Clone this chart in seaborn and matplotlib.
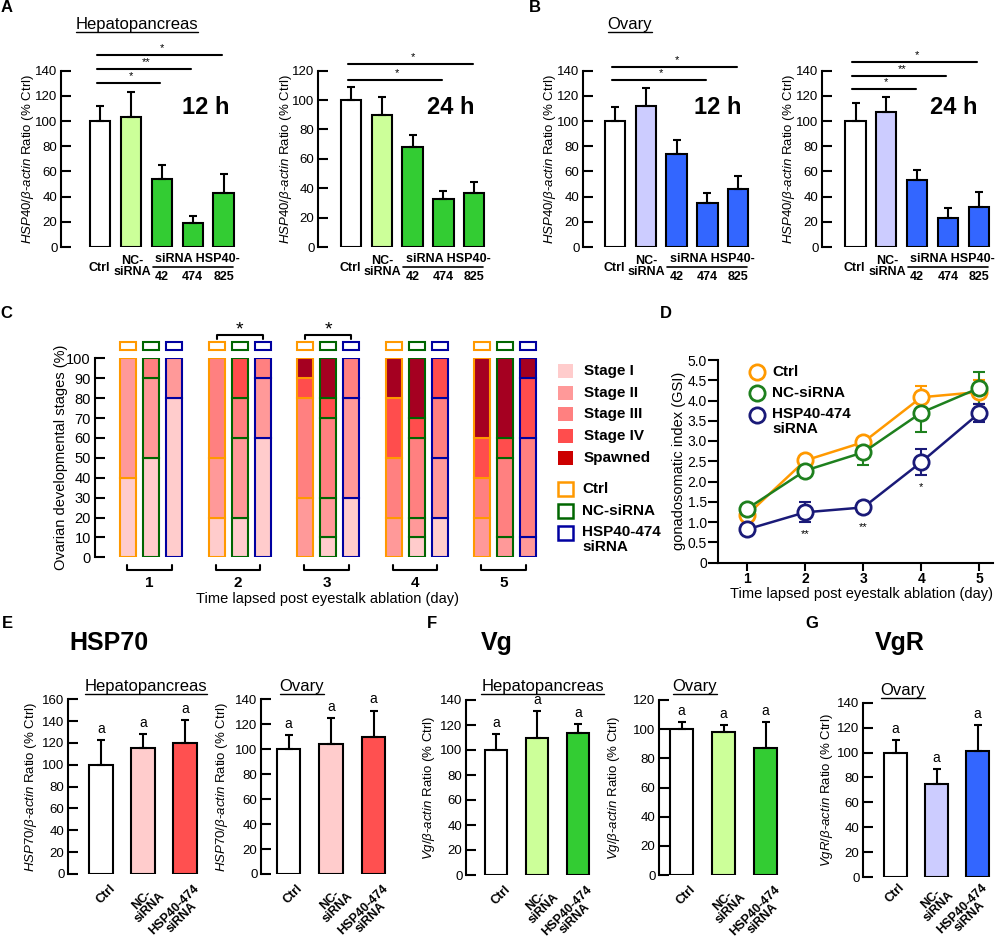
import numpy as np
import pandas as pd
import matplotlib
matplotlib.use("Agg")
import matplotlib.pyplot as plt
from matplotlib.patches import Rectangle
from matplotlib.lines import Line2D
from matplotlib.transforms import blended_transform_factory, ScaledTranslation
from matplotlib.ticker import FuncFormatter
import seaborn as sns

# ---------------- data ----------------
kd5 = ["Ctrl", "NC-siRNA", "HSP40-42", "HSP40-474", "HSP40-825"]
kd5_ticks = ["Ctrl", "NC-\nsiRNA", "42", "474", "825"]

hp12_mean = [100, 103, 54, 19, 43]
hp12_sem = [12, 20, 11, 6, 15]
hp12_sig = ["", "", "*", "**", "*"]
hp24_mean = [100, 90, 68, 33, 37]
hp24_sem = [9, 12, 8, 5, 7]
hp24_sig = ["", "", "", "*", "*"]
ov12_mean = [100, 112, 74, 35, 46]
ov12_sem = [11, 14, 11, 8, 10]
ov12_sig = ["", "", "", "*", "*"]
ov24_mean = [100, 107, 53, 23, 32]
ov24_sem = [14, 12, 8, 8, 12]
ov24_sig = ["", "", "*", "**", "*"]

days = [1, 2, 3, 4, 5]
stages = ["Stage I", "Stage II", "Stage III", "Stage IV", "Spawned"]
treat = ["Ctrl", "NC-siRNA", "HSP40-474\nsiRNA"]
# rows = stages (I..Spawned), columns = days 1..5, % of animals
stage_ctrl = [[40, 20, 0, 0, 0],
              [60, 30, 30, 20, 20],
              [0, 50, 50, 30, 20],
              [0, 0, 10, 30, 20],
              [0, 0, 10, 20, 40]]
stage_nc = [[50, 20, 10, 10, 0],
            [40, 40, 20, 10, 10],
            [10, 20, 40, 40, 40],
            [0, 20, 10, 10, 10],
            [0, 0, 20, 30, 40]]
stage_kd = [[80, 60, 30, 20, 0],
            [20, 30, 50, 30, 10],
            [0, 10, 20, 30, 50],
            [0, 0, 0, 20, 30],
            [0, 0, 0, 0, 10]]
stage_sig_days = [2, 3]

gsi_ctrl = [1.18, 2.52, 2.97, 4.08, 4.21]
gsi_ctrl_sem = [0.06, 0.06, 0.08, 0.27, 0.30]
gsi_nc = [1.33, 2.27, 2.72, 3.70, 4.31]
gsi_nc_sem = [0.08, 0.08, 0.31, 0.47, 0.39]
gsi_kd = [0.82, 1.24, 1.36, 2.48, 3.69]
gsi_kd_sem = [0.05, 0.25, 0.08, 0.33, 0.23]
gsi_sig = ["", "**", "**", "*", ""]

kd3 = ["Ctrl", "NC-siRNA", "HSP40-474 siRNA"]
kd3_ticks = ["Ctrl", "NC-\nsiRNA", "HSP40-474\nsiRNA"]
hsp70_hp = [100, 115, 120]
hsp70_hp_sem = [23, 13, 21]
hsp70_ov = [100, 104, 110]
hsp70_ov_sem = [11, 21, 21]
vg_hp = [100, 110, 114]
vg_hp_sem = [13, 21, 7]
vg_ov = [100, 98, 87]
vg_ov_sem = [5, 5, 18]
vgr_ov = [100, 75, 101]
vgr_ov_sem = [10, 12, 21]

# ---------------- style ----------------
sns.set_theme(style="ticks", rc={"axes.edgecolor": "black", "ytick.color": "black",
                                 "xtick.color": "black", "text.color": "black",
                                 "axes.labelcolor": "black"})
plt.rcParams["font.family"] = ["Liberation Sans", "DejaVu Sans"]
plt.rcParams["mathtext.fontset"] = "custom"
plt.rcParams["mathtext.it"] = "Liberation Sans:italic"
plt.rcParams["mathtext.rm"] = "Liberation Sans"

green_pal = ["#FFFFFF", "#CCFF99", "#33CC33", "#33CC33", "#33CC33"]
blue_pal = ["#FFFFFF", "#CCCCFF", "#3366FF", "#3366FF", "#3366FF"]
stage_cols = ["#FFCCCC", "#FF9999", "#FF8080", "#FF4D4D", "#A50021"]
stage_leg_cols = ["#FFCCCC", "#FF9999", "#FF8080", "#FF4D4D", "#CC0000"]
treat_cols = ["#FF9900", "#006600", "#0000A0"]
line_cols = ["#FF9900", "#1E801E", "#1A1A78"]

W, H = 1000, 944
fig = plt.figure(figsize=(W / 100, H / 100), dpi=100)


def fy(ypx):
    return 1 - ypx / H


def ftext(x, y, s, **kw):
    return fig.text(x / W, fy(y), s, **kw)


def add_ax(x0, x1, ytop, ybot):
    return fig.add_axes([x0 / W, 1 - ybot / H, (x1 - x0) / W, (ybot - ytop) / H])


def ratio_label(gene):
    return r"$\mathit{" + gene + r"/\beta}$-$\mathit{actin}$ Ratio (% Ctrl)"


def bar_panel(x_spine, first_px, step_px, ytop, ybot, ymax, cats, means, sems, colors, width):
    n = len(cats)
    left = -(first_px - x_spine) / step_px
    right = n - 0.45
    ax = add_ax(x_spine, x_spine + (right - left) * step_px, ytop, ybot)
    df = pd.DataFrame({"grp": cats, "val": means})
    sns.barplot(data=df, x="grp", y="val", hue="grp", palette=dict(zip(cats, colors)),
                saturation=1, width=width, edgecolor="black", linewidth=1.5,
                errorbar=None, legend=False, ax=ax)
    ax.errorbar(np.arange(n), means, yerr=[np.zeros(n), sems], fmt="none", ecolor="black",
                elinewidth=1.5, capsize=3, capthick=1.5, zorder=3)
    ax.set_xlim(left, right)
    ax.set_ylim(0, ymax)
    ax.set_yticks(np.arange(0, ymax + 1, 20))
    sns.despine(ax=ax, bottom=True)
    ax.spines["left"].set_linewidth(1.5)
    ax.tick_params(axis="y", direction="in", length=7, width=1.5, pad=2.5, labelsize=9.5)
    ax.tick_params(axis="x", length=0)
    ax.set_xlabel("")
    ax.set_ylabel("")
    return ax


def kd5_xlabels(ax):
    tr = blended_transform_factory(ax.transData, fig.transFigure)
    ax.set_xticks([])
    ax.text(-0.03, fy(268), kd5_ticks[0], transform=tr, ha="center", va="center",
            fontsize=9, fontweight="bold")
    ax.text(1.03, fy(266.5), kd5_ticks[1], transform=tr, ha="center", va="center",
            fontsize=9, fontweight="bold", linespacing=0.95)
    ax.text(3.15, fy(259), "siRNA HSP40-", transform=tr, ha="center", va="center",
            fontsize=9, fontweight="bold")
    ax.plot([1.7, 4.3], [fy(267), fy(267)], transform=tr, color="black", lw=1.2, clip_on=False)
    for i in range(2, 5):
        ax.text(i, fy(277.5), kd5_ticks[i], transform=tr, ha="center", va="center",
                fontsize=9, fontweight="bold")


def sig_lines(ax, sig, base_px, step_px=14):
    tr = blended_transform_factory(ax.transData, fig.transFigure)
    k = 0
    for i, s in enumerate(sig):
        if not s:
            continue
        y = fy(base_px - k * step_px)
        ax.plot([-0.1, i - 0.05], [y, y], transform=tr, color="black", lw=1.5, clip_on=False)
        ax.text(i / 2, y + 1.5 / H, s, transform=tr, ha="center", va="bottom", fontsize=8)
        k += 1


headers = []

# ---------------- A / B ----------------
top_ab, bot_ab = 70.7, 247
axA1 = bar_panel(61, 100.3, 30.8, top_ab, bot_ab, 140, kd5, hp12_mean, hp12_sem, green_pal, 0.66)
kd5_xlabels(axA1)
sig_lines(axA1, hp12_sig, 83)
ftext(206, 107, "12 h", ha="center", va="center", fontsize=17, fontweight="bold")
ftext(28, 159, ratio_label("HSP40"), rotation=90, ha="center", va="center", fontsize=9.5)

axA2 = bar_panel(318, 351, 30.8, top_ab, bot_ab, 120, kd5, hp24_mean, hp24_sem, green_pal, 0.66)
kd5_xlabels(axA2)
sig_lines(axA2, hp24_sig, 80, 16)
ftext(451, 107, "24 h", ha="center", va="center", fontsize=17, fontweight="bold")
ftext(285.5, 159, ratio_label("HSP40"), rotation=90, ha="center", va="center", fontsize=9.5)

axB1 = bar_panel(583, 615, 30.8, top_ab, bot_ab, 140, kd5, ov12_mean, ov12_sem, blue_pal, 0.66)
kd5_xlabels(axB1)
sig_lines(axB1, ov12_sig, 80, 13.5)
ftext(718, 107, "12 h", ha="center", va="center", fontsize=17, fontweight="bold")
ftext(550.5, 159, ratio_label("HSP40"), rotation=90, ha="center", va="center", fontsize=9.5)

axB2 = bar_panel(822, 855.5, 30.8, top_ab, bot_ab, 140, kd5, ov24_mean, ov24_sem, blue_pal, 0.66)
kd5_xlabels(axB2)
sig_lines(axB2, ov24_sig, 89, 13.5)
ftext(954, 107, "24 h", ha="center", va="center", fontsize=17, fontweight="bold")
ftext(789, 159, ratio_label("HSP40"), rotation=90, ha="center", va="center", fontsize=9.5)

headers.append(ftext(137, 24, "Hepatopancreas", ha="center", va="center", fontsize=12))
headers.append(ftext(630, 24, "Ovary", ha="center", va="center", fontsize=12))

# ---------------- C ----------------
c_top, c_bot = 358.3, 557.3
step_c = 88.5
c_left = 1 - (151.3 - 95) / step_c
c_right = 5 + (543 - 506) / step_c
axC = add_ax(95, 95 + (c_right - c_left) * step_c, c_top, c_bot)
offs = [-0.26, 0.0, 0.26]
for j, stack in enumerate([stage_ctrl, stage_nc, stage_kd]):
    xs = np.array(days) + offs[j]
    bottom = np.zeros(len(days))
    for row, col in zip(stack, stage_cols):
        vals = np.array(row, dtype=float)
        m = vals > 0
        axC.bar(xs[m], vals[m], bottom=bottom[m], width=0.18, color=col,
                edgecolor=treat_cols[j], linewidth=1.5)
        bottom += vals
    axC.bar(xs, 4.1, bottom=104.2, width=0.18, color="white", edgecolor=treat_cols[j],
            linewidth=1.5, clip_on=False)
for d in days:
    axC.plot([d - 0.27, d - 0.27, d + 0.23, d + 0.23], [-3.9, -6.4, -6.4, -3.9],
             color="black", lw=1.5, clip_on=False)
    axC.text(d - 0.02, -13, str(d), ha="center", va="center", fontsize=11, fontweight="bold")
for d in stage_sig_days:
    axC.plot([d - 0.26, d - 0.26, d + 0.26, d + 0.26], [109.5, 111.7, 111.7, 109.5],
             color="black", lw=1.5, clip_on=False)
    axC.text(d, 114, "*", ha="center", va="center", fontsize=14)
axC.set_xlim(c_left, c_right)
axC.set_ylim(0, 100)
axC.set_yticks(np.arange(0, 101, 10))
axC.set_xticks([])
sns.despine(ax=axC, bottom=True)
axC.spines["left"].set_linewidth(1.5)
axC.tick_params(axis="y", direction="in", length=7, width=1.5, pad=3, labelsize=10.5)
ftext(61, 457, "Ovarian developmental stages (%)", rotation=90, ha="center", va="center",
      fontsize=10.5)
ftext(327, 599.5, "Time lapsed post eyestalk ablation (day)", ha="center", va="center",
      fontsize=10.5)

leg_y = [371, 392.7, 414.3, 436, 457.7]
for lab, col, y in zip(stages, stage_leg_cols, leg_y):
    fig.add_artist(Rectangle((558 / W, fy(y + 7)), 15 / W, 14 / H, transform=fig.transFigure,
                             facecolor=col, edgecolor="none"))
    ftext(584, y, lab, ha="left", va="center", fontsize=11, fontweight="bold")
for lab, col, y in zip(treat, treat_cols, [489.3, 511, 533]):
    fig.add_artist(Rectangle((558 / W, fy(y + 7)), 15 / W, 14 / H, transform=fig.transFigure,
                             facecolor="white", edgecolor=col, linewidth=1.8))
    va = "top" if "\n" in lab else "center"
    yy = y - 7.5 if "\n" in lab else y
    ftext(582, yy, lab, ha="left", va=va, fontsize=11, fontweight="bold", linespacing=1.05)

# ---------------- D ----------------
d_top, d_bot = 360, 562.5
d_left = 1 - 29.3 / 58
d_right = 5 + 13.7 / 58
axD = add_ax(718, 718 + (d_right - d_left) * 58, d_top, d_bot)
for name, vals, sem, col in zip(treat, [gsi_ctrl, gsi_nc, gsi_kd],
                                [gsi_ctrl_sem, gsi_nc_sem, gsi_kd_sem], line_cols):
    axD.errorbar(days, vals, yerr=sem, fmt="none", ecolor=col, elinewidth=1.5,
                 capsize=4, capthick=1.5, zorder=2)
    df = pd.DataFrame({"day": days, "gsi": vals})
    sns.lineplot(data=df, x="day", y="gsi", color=col, marker="o", markersize=11,
                 markerfacecolor="white", markeredgecolor=col, markeredgewidth=2,
                 linewidth=1.8, ax=axD, zorder=3)
for d, s, v, e in zip(days, gsi_sig, gsi_kd, gsi_kd_sem):
    if s:
        axD.text(d, v - max(e, 0.2) - 0.17, s, ha="center", va="top", fontsize=8)
axD.set_xlim(d_left, d_right)
axD.set_ylim(0, 5)
axD.set_xticks(days)
axD.set_yticks(np.arange(0, 5.01, 0.5))
axD.yaxis.set_major_formatter(FuncFormatter(lambda v, p: "0" if v == 0 else f"{v:.1f}"))
sns.despine(ax=axD)
for sp in ["left", "bottom"]:
    axD.spines[sp].set_linewidth(1.5)
axD.tick_params(direction="out", length=7, width=1.5, labelsize=10, pad=1)
axD.tick_params(axis="x", length=6, pad=0.5)
for t in axD.get_xticklabels():
    t.set_fontweight("bold")
axD.set_xlabel("")
axD.set_ylabel("")
ftext(679, 461, "gonadosomatic index (GSI)", rotation=90, ha="center", va="center",
      fontsize=10.5)
ftext(861.7, 594, "Time lapsed post eyestalk ablation (day)", ha="center", va="center",
      fontsize=10.5)
for name, col, y in zip(treat, line_cols, [4.71, 4.19, 3.64]):
    axD.plot([1.17], [y], marker="o", ms=11, mfc="white", mec=col, mew=2, clip_on=False)
    axD.text(1.43, y + (0.2 if "\n" in name else 0), name, ha="left",
             va="top" if "\n" in name else "center", fontsize=11, fontweight="bold",
             linespacing=1.05)

# ---------------- E / F / G ----------------
def kd3_ticks_rot(ax, shift=8, pad=6):
    ax.set_xticks(range(3))
    ax.set_xticklabels(kd3_ticks, rotation=45, ha="right", va="top", rotation_mode="anchor",
                       fontweight="bold", fontsize=9, multialignment="center",
                       linespacing=0.9)
    ax.tick_params(axis="x", length=0, pad=pad)
    off = ScaledTranslation(shift / 100, 0, fig.dpi_scale_trans)
    for t in ax.get_xticklabels():
        t.set_transform(t.get_transform() + off)


def letters(ax, means, sems):
    for i, (m, s) in enumerate(zip(means, sems)):
        ax.annotate("a", (i, m + s), xytext=(0, 3), textcoords="offset points",
                    ha="center", va="bottom", fontsize=10)


pink_pal = ["#FFFFFF", "#FFCCCC", "#FF5050"]
lgreen_pal = ["#FFFFFF", "#CCFF99", "#33CC33"]
lblue_pal = ["#FFFFFF", "#CCCCFF", "#3366FF"]

axE1 = bar_panel(68, 101, 42, 699.3, 874, 160, kd3, hsp70_hp, hsp70_hp_sem, pink_pal, 0.55)
axE2 = bar_panel(261, 288.5, 42.5, 699.3, 874, 140, kd3, hsp70_ov, hsp70_ov_sem, pink_pal, 0.55)
axF1 = bar_panel(466, 496, 41, 700, 875, 140, kd3, vg_hp, vg_hp_sem, lgreen_pal, 0.55)
axF2 = bar_panel(659, 681.7, 42, 700, 875, 120, kd3, vg_ov, vg_ov_sem, lgreen_pal, 0.55)
axG = bar_panel(863, 895.7, 41, 702.7, 877, 140, kd3, vgr_ov, vgr_ov_sem, lblue_pal, 0.55)
for ax, m, s in [(axE1, hsp70_hp, hsp70_hp_sem), (axE2, hsp70_ov, hsp70_ov_sem),
                 (axF1, vg_hp, vg_hp_sem), (axF2, vg_ov, vg_ov_sem), (axG, vgr_ov, vgr_ov_sem)]:
    if ax is axG:
        kd3_ticks_rot(ax, 3, 3)
    else:
        kd3_ticks_rot(ax)
    letters(ax, m, s)

ftext(31, 786.5, ratio_label("HSP70"), rotation=90, ha="center", va="center", fontsize=9.5)
ftext(222, 786.5, ratio_label("HSP70"), rotation=90, ha="center", va="center", fontsize=9.5)
ftext(429, 787.5, ratio_label("Vg"), rotation=90, ha="center", va="center", fontsize=9.5)
ftext(614, 787.5, ratio_label("Vg"), rotation=90, ha="center", va="center", fontsize=9.5)
ftext(827, 790, ratio_label("VgR"), rotation=90, ha="center", va="center", fontsize=9.5)

ftext(109, 643, "HSP70", ha="center", va="center", fontsize=18, fontweight="bold")
ftext(497, 643, "Vg", ha="center", va="center", fontsize=18, fontweight="bold")
ftext(900, 643, "VgR", ha="center", va="center", fontsize=18, fontweight="bold")
headers.append(ftext(146, 686, "Hepatopancreas", ha="center", va="center", fontsize=12))
headers.append(ftext(302, 686, "Ovary", ha="center", va="center", fontsize=12))
headers.append(ftext(542.5, 686, "Hepatopancreas", ha="center", va="center", fontsize=12))
headers.append(ftext(695, 686, "Ovary", ha="center", va="center", fontsize=12))
headers.append(ftext(903, 690, "Ovary", ha="center", va="center", fontsize=12))

# panel letters
for lab, x, y in [("A", 7, 8), ("B", 535, 8), ("C", 6, 313), ("D", 666, 313),
                  ("E", 7, 624), ("F", 432, 624), ("G", 812, 624)]:
    ftext(x, y, lab, ha="center", va="center", fontsize=12, fontweight="bold")

# underline the tissue headers
fig.canvas.draw()
rend = fig.canvas.get_renderer()
for t in headers:
    bb = t.get_window_extent(rend)
    fig.add_artist(Line2D([bb.x0 / W, bb.x1 / W], [(bb.y0 - 0.5) / H] * 2,
                          transform=fig.transFigure, color="black", lw=1))

fig.savefig("out.png", dpi=100)
